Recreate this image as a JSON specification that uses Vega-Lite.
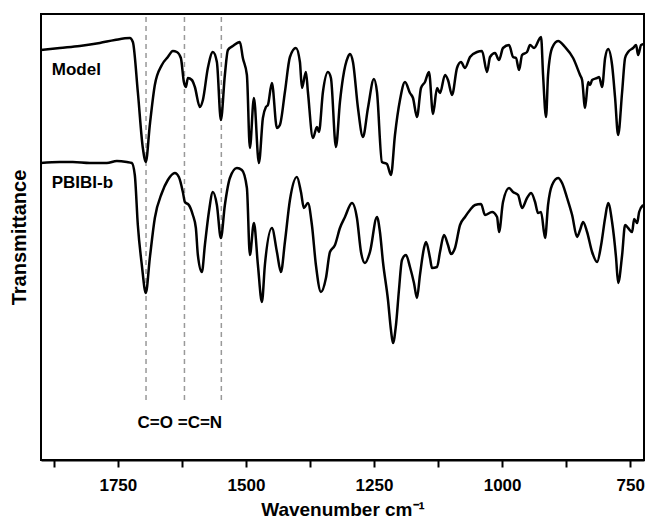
{
  "$schema": "https://vega.github.io/schema/vega-lite/v6.json",
  "width": 603,
  "height": 446,
  "autosize": "none",
  "padding": {"left": 41, "top": 14, "right": 2, "bottom": 64},
  "background": "white",
  "config": {
    "view": {"stroke": "black", "strokeWidth": 2},
    "font": "Liberation Sans",
    "axis": {"grid": false, "titleFont": "Liberation Sans", "labelFont": "Liberation Sans", "titleColor": "black", "labelColor": "black"}
  },
  "datasets": {
    "spectra": [
      {"s":"Model","w":1900.4,"t":410},{"s":"Model","w":1863.3,"t":412},{"s":"Model","w":1824.3,"t":414},{"s":"Model","w":1785.2,"t":417},{"s":"Model","w":1756,"t":420},{"s":"Model","w":1726.6,"t":422},{"s":"Model","w":1720.7,"t":418},{"s":"Model","w":1711,"t":368},{"s":"Model","w":1701.2,"t":312},{"s":"Model","w":1695.4,"t":298},{"s":"Model","w":1687.6,"t":335},{"s":"Model","w":1677.8,"t":375},{"s":"Model","w":1664.1,"t":395},{"s":"Model","w":1652.4,"t":403},{"s":"Model","w":1642.6,"t":409},{"s":"Model","w":1634.8,"t":408},{"s":"Model","w":1627,"t":402},{"s":"Model","w":1621.1,"t":378},{"s":"Model","w":1617.2,"t":373},{"s":"Model","w":1613.3,"t":382},{"s":"Model","w":1605.5,"t":380},{"s":"Model","w":1599.7,"t":373},{"s":"Model","w":1589.9,"t":353},{"s":"Model","w":1584,"t":360},{"s":"Model","w":1574.3,"t":392},{"s":"Model","w":1564.5,"t":408},{"s":"Model","w":1556.7,"t":398},{"s":"Model","w":1548.9,"t":340},{"s":"Model","w":1541.1,"t":385},{"s":"Model","w":1535.2,"t":410},{"s":"Model","w":1525.5,"t":414},{"s":"Model","w":1511.8,"t":418},{"s":"Model","w":1506,"t":402},{"s":"Model","w":1498.1,"t":385},{"s":"Model","w":1492.3,"t":312},{"s":"Model","w":1484.4,"t":362},{"s":"Model","w":1474.7,"t":297},{"s":"Model","w":1466.9,"t":342},{"s":"Model","w":1461,"t":353},{"s":"Model","w":1457.1,"t":355},{"s":"Model","w":1449.3,"t":377},{"s":"Model","w":1439.5,"t":332},{"s":"Model","w":1433.7,"t":335},{"s":"Model","w":1423.9,"t":368},{"s":"Model","w":1414.1,"t":403},{"s":"Model","w":1402.4,"t":412},{"s":"Model","w":1394.6,"t":398},{"s":"Model","w":1390.7,"t":372},{"s":"Model","w":1382.9,"t":388},{"s":"Model","w":1379,"t":368},{"s":"Model","w":1369.2,"t":322},{"s":"Model","w":1361.4,"t":333},{"s":"Model","w":1357.5,"t":328},{"s":"Model","w":1349.7,"t":368},{"s":"Model","w":1339.9,"t":388},{"s":"Model","w":1334.1,"t":382},{"s":"Model","w":1324.3,"t":313},{"s":"Model","w":1316.5,"t":358},{"s":"Model","w":1310.6,"t":382},{"s":"Model","w":1300.9,"t":403},{"s":"Model","w":1297,"t":406},{"s":"Model","w":1291.1,"t":398},{"s":"Model","w":1281.3,"t":352},{"s":"Model","w":1271.6,"t":323},{"s":"Model","w":1261.8,"t":352},{"s":"Model","w":1250.1,"t":381},{"s":"Model","w":1244.2,"t":368},{"s":"Model","w":1234.5,"t":298},{"s":"Model","w":1224.7,"t":296},{"s":"Model","w":1216.9,"t":285},{"s":"Model","w":1209.1,"t":325},{"s":"Model","w":1199.3,"t":360},{"s":"Model","w":1189.5,"t":378},{"s":"Model","w":1179.8,"t":367},{"s":"Model","w":1173.9,"t":362},{"s":"Model","w":1166.1,"t":343},{"s":"Model","w":1158.3,"t":372},{"s":"Model","w":1150.5,"t":378},{"s":"Model","w":1142.7,"t":388},{"s":"Model","w":1134.8,"t":346},{"s":"Model","w":1127,"t":372},{"s":"Model","w":1121.2,"t":367},{"s":"Model","w":1111.4,"t":385},{"s":"Model","w":1105.6,"t":380},{"s":"Model","w":1097.7,"t":365},{"s":"Model","w":1088,"t":392},{"s":"Model","w":1080.2,"t":398},{"s":"Model","w":1072.4,"t":392},{"s":"Model","w":1062.6,"t":403},{"s":"Model","w":1048.9,"t":408},{"s":"Model","w":1039.2,"t":409},{"s":"Model","w":1029.4,"t":388},{"s":"Model","w":1023.5,"t":403},{"s":"Model","w":1013.8,"t":407},{"s":"Model","w":1006,"t":400},{"s":"Model","w":998.2,"t":412},{"s":"Model","w":986.4,"t":415},{"s":"Model","w":978.6,"t":403},{"s":"Model","w":972.8,"t":402},{"s":"Model","w":966.9,"t":390},{"s":"Model","w":961,"t":405},{"s":"Model","w":951.3,"t":408},{"s":"Model","w":945.4,"t":415},{"s":"Model","w":937.6,"t":412},{"s":"Model","w":923.9,"t":423},{"s":"Model","w":920,"t":385},{"s":"Model","w":914.2,"t":343},{"s":"Model","w":910.3,"t":385},{"s":"Model","w":902.4,"t":412},{"s":"Model","w":890.7,"t":419},{"s":"Model","w":877.1,"t":413},{"s":"Model","w":861.4,"t":402},{"s":"Model","w":847.8,"t":385},{"s":"Model","w":843.8,"t":380},{"s":"Model","w":838,"t":352},{"s":"Model","w":832.1,"t":378},{"s":"Model","w":828.2,"t":375},{"s":"Model","w":824.3,"t":380},{"s":"Model","w":814.5,"t":382},{"s":"Model","w":810.6,"t":383},{"s":"Model","w":804.8,"t":373},{"s":"Model","w":798.9,"t":402},{"s":"Model","w":793,"t":411},{"s":"Model","w":785.3,"t":395},{"s":"Model","w":779.4,"t":362},{"s":"Model","w":773.5,"t":325},{"s":"Model","w":765.7,"t":368},{"s":"Model","w":759.9,"t":402},{"s":"Model","w":754,"t":408},{"s":"Model","w":744.3,"t":412},{"s":"Model","w":738.4,"t":415},{"s":"Model","w":734.5,"t":405},{"s":"Model","w":728.6,"t":415},{"s":"Model","w":722.8,"t":416},
      {"s":"PBIBI-b","w":1900.4,"t":297},{"s":"PBIBI-b","w":1863.3,"t":298},{"s":"PBIBI-b","w":1837.9,"t":298},{"s":"PBIBI-b","w":1804.7,"t":297},{"s":"PBIBI-b","w":1771.5,"t":297},{"s":"PBIBI-b","w":1752,"t":299},{"s":"PBIBI-b","w":1732.5,"t":298},{"s":"PBIBI-b","w":1722.7,"t":297},{"s":"PBIBI-b","w":1716.9,"t":285},{"s":"PBIBI-b","w":1711,"t":235},{"s":"PBIBI-b","w":1703.2,"t":195},{"s":"PBIBI-b","w":1695.4,"t":167},{"s":"PBIBI-b","w":1687.6,"t":202},{"s":"PBIBI-b","w":1677.8,"t":242},{"s":"PBIBI-b","w":1664.1,"t":267},{"s":"PBIBI-b","w":1652.4,"t":280},{"s":"PBIBI-b","w":1638.7,"t":287},{"s":"PBIBI-b","w":1630.9,"t":283},{"s":"PBIBI-b","w":1623.1,"t":268},{"s":"PBIBI-b","w":1619.2,"t":258},{"s":"PBIBI-b","w":1611.4,"t":255},{"s":"PBIBI-b","w":1603.6,"t":245},{"s":"PBIBI-b","w":1597.7,"t":232},{"s":"PBIBI-b","w":1593.8,"t":205},{"s":"PBIBI-b","w":1586,"t":188},{"s":"PBIBI-b","w":1580.1,"t":215},{"s":"PBIBI-b","w":1572.3,"t":248},{"s":"PBIBI-b","w":1564.5,"t":268},{"s":"PBIBI-b","w":1556.7,"t":255},{"s":"PBIBI-b","w":1548.9,"t":222},{"s":"PBIBI-b","w":1541.1,"t":255},{"s":"PBIBI-b","w":1531.3,"t":282},{"s":"PBIBI-b","w":1517.6,"t":292},{"s":"PBIBI-b","w":1507.9,"t":290},{"s":"PBIBI-b","w":1498.1,"t":272},{"s":"PBIBI-b","w":1492.3,"t":205},{"s":"PBIBI-b","w":1484.4,"t":237},{"s":"PBIBI-b","w":1476.6,"t":195},{"s":"PBIBI-b","w":1468.8,"t":158},{"s":"PBIBI-b","w":1463,"t":195},{"s":"PBIBI-b","w":1449.3,"t":232},{"s":"PBIBI-b","w":1439.5,"t":208},{"s":"PBIBI-b","w":1431.7,"t":188},{"s":"PBIBI-b","w":1423.9,"t":218},{"s":"PBIBI-b","w":1414.1,"t":260},{"s":"PBIBI-b","w":1400.5,"t":283},{"s":"PBIBI-b","w":1392.6,"t":268},{"s":"PBIBI-b","w":1386.8,"t":252},{"s":"PBIBI-b","w":1379,"t":257},{"s":"PBIBI-b","w":1371.2,"t":235},{"s":"PBIBI-b","w":1363.4,"t":195},{"s":"PBIBI-b","w":1353.6,"t":168},{"s":"PBIBI-b","w":1343.8,"t":182},{"s":"PBIBI-b","w":1336,"t":208},{"s":"PBIBI-b","w":1326.2,"t":215},{"s":"PBIBI-b","w":1316.5,"t":232},{"s":"PBIBI-b","w":1306.7,"t":243},{"s":"PBIBI-b","w":1293,"t":257},{"s":"PBIBI-b","w":1283.3,"t":242},{"s":"PBIBI-b","w":1275.4,"t":208},{"s":"PBIBI-b","w":1267.7,"t":197},{"s":"PBIBI-b","w":1257.9,"t":208},{"s":"PBIBI-b","w":1244.2,"t":243},{"s":"PBIBI-b","w":1238.4,"t":228},{"s":"PBIBI-b","w":1232.5,"t":198},{"s":"PBIBI-b","w":1222.7,"t":160},{"s":"PBIBI-b","w":1216.9,"t":130},{"s":"PBIBI-b","w":1213,"t":117},{"s":"PBIBI-b","w":1207.1,"t":135},{"s":"PBIBI-b","w":1201.3,"t":170},{"s":"PBIBI-b","w":1195.4,"t":200},{"s":"PBIBI-b","w":1187.6,"t":205},{"s":"PBIBI-b","w":1179.8,"t":193},{"s":"PBIBI-b","w":1172,"t":177},{"s":"PBIBI-b","w":1166.1,"t":162},{"s":"PBIBI-b","w":1160.3,"t":185},{"s":"PBIBI-b","w":1152.4,"t":212},{"s":"PBIBI-b","w":1148.5,"t":218},{"s":"PBIBI-b","w":1140.7,"t":202},{"s":"PBIBI-b","w":1136.8,"t":192},{"s":"PBIBI-b","w":1127,"t":193},{"s":"PBIBI-b","w":1121.2,"t":208},{"s":"PBIBI-b","w":1113.4,"t":225},{"s":"PBIBI-b","w":1105.6,"t":215},{"s":"PBIBI-b","w":1099.7,"t":206},{"s":"PBIBI-b","w":1091.9,"t":212},{"s":"PBIBI-b","w":1082.1,"t":235},{"s":"PBIBI-b","w":1072.4,"t":243},{"s":"PBIBI-b","w":1062.6,"t":250},{"s":"PBIBI-b","w":1052.8,"t":255},{"s":"PBIBI-b","w":1041.1,"t":256},{"s":"PBIBI-b","w":1033.3,"t":245},{"s":"PBIBI-b","w":1019.6,"t":248},{"s":"PBIBI-b","w":1009.8,"t":243},{"s":"PBIBI-b","w":1006,"t":228},{"s":"PBIBI-b","w":998.2,"t":258},{"s":"PBIBI-b","w":986.4,"t":272},{"s":"PBIBI-b","w":978.6,"t":268},{"s":"PBIBI-b","w":968.8,"t":265},{"s":"PBIBI-b","w":961,"t":252},{"s":"PBIBI-b","w":951.3,"t":262},{"s":"PBIBI-b","w":943.4,"t":267},{"s":"PBIBI-b","w":935.6,"t":258},{"s":"PBIBI-b","w":929.8,"t":247},{"s":"PBIBI-b","w":923.9,"t":248},{"s":"PBIBI-b","w":916.1,"t":222},{"s":"PBIBI-b","w":910.3,"t":255},{"s":"PBIBI-b","w":902.4,"t":275},{"s":"PBIBI-b","w":890.7,"t":282},{"s":"PBIBI-b","w":882.9,"t":277},{"s":"PBIBI-b","w":873.1,"t":262},{"s":"PBIBI-b","w":863.3,"t":245},{"s":"PBIBI-b","w":853.6,"t":223},{"s":"PBIBI-b","w":847.8,"t":230},{"s":"PBIBI-b","w":841.9,"t":238},{"s":"PBIBI-b","w":834.1,"t":228},{"s":"PBIBI-b","w":824.3,"t":208},{"s":"PBIBI-b","w":814.5,"t":198},{"s":"PBIBI-b","w":806.7,"t":215},{"s":"PBIBI-b","w":798.9,"t":242},{"s":"PBIBI-b","w":793,"t":257},{"s":"PBIBI-b","w":785.3,"t":238},{"s":"PBIBI-b","w":777.5,"t":202},{"s":"PBIBI-b","w":773.5,"t":177},{"s":"PBIBI-b","w":765.7,"t":205},{"s":"PBIBI-b","w":759.9,"t":235},{"s":"PBIBI-b","w":754,"t":232},{"s":"PBIBI-b","w":746.2,"t":228},{"s":"PBIBI-b","w":742.3,"t":241},{"s":"PBIBI-b","w":736.4,"t":237},{"s":"PBIBI-b","w":732.5,"t":248},{"s":"PBIBI-b","w":724.7,"t":255}
    ],
    "peaks": [{"w": 1695}, {"w": 1620}, {"w": 1548}],
    "names": [{"w": 1879, "t": 385, "label": "Model"}, {"w": 1879, "t": 272, "label": "PBIBI-b"}],
    "notes": [{"w": 1629, "t": 37, "label": "C=O =C=N"}]
  },
  "layer": [
    {
      "data": {"name": "peaks"},
      "mark": {"type": "rule", "color": "#999999", "strokeWidth": 1.5, "strokeDash": [5, 4]},
      "encoding": {
        "x": {"field": "w", "type": "quantitative", "scale": {"domain": [1900, 723], "nice": false, "zero": false},
          "axis": {"title": "Wavenumber cm⁻¹", "values": [1875, 1750, 1625, 1500, 1375, 1250, 1125, 1000, 875, 750],
            "labelExpr": "datum.value % 250 == 0 ? datum.label : ''", "format": "d",
            "domainColor": "black", "domainWidth": 2, "tickColor": "black", "tickWidth": 2, "tickSize": 7,
            "labelFontSize": 17, "labelFontWeight": "bold", "labelPadding": 10,
            "titleFontSize": 19, "titleFontWeight": "bold", "titlePadding": 7}},
        "y": {"datum": 60, "type": "quantitative", "scale": {"domain": [0, 446], "nice": false, "zero": false},
          "axis": {"title": "Transmittance", "labels": false, "ticks": false, "domain": false,
            "titleFontSize": 20, "titleFontWeight": "bold", "titlePadding": 12}},
        "y2": {"datum": 446}
      }
    },
    {
      "data": {"name": "spectra"},
      "mark": {"type": "line", "color": "black", "strokeWidth": 2.5, "interpolate": "monotone"},
      "encoding": {
        "x": {"field": "w", "type": "quantitative"},
        "y": {"field": "t", "type": "quantitative"},
        "detail": {"field": "s"}
      }
    },
    {
      "data": {"name": "names"},
      "mark": {"type": "text", "align": "left", "baseline": "alphabetic", "fontSize": 17, "fontWeight": "bold", "color": "black"},
      "encoding": {
        "x": {"field": "w", "type": "quantitative"},
        "y": {"field": "t", "type": "quantitative"},
        "text": {"field": "label"}
      }
    },
    {
      "data": {"name": "notes"},
      "mark": {"type": "text", "align": "center", "baseline": "middle", "fontSize": 17, "fontWeight": "bold", "color": "black"},
      "encoding": {
        "x": {"field": "w", "type": "quantitative"},
        "y": {"field": "t", "type": "quantitative"},
        "text": {"field": "label"}
      }
    }
  ]
}
